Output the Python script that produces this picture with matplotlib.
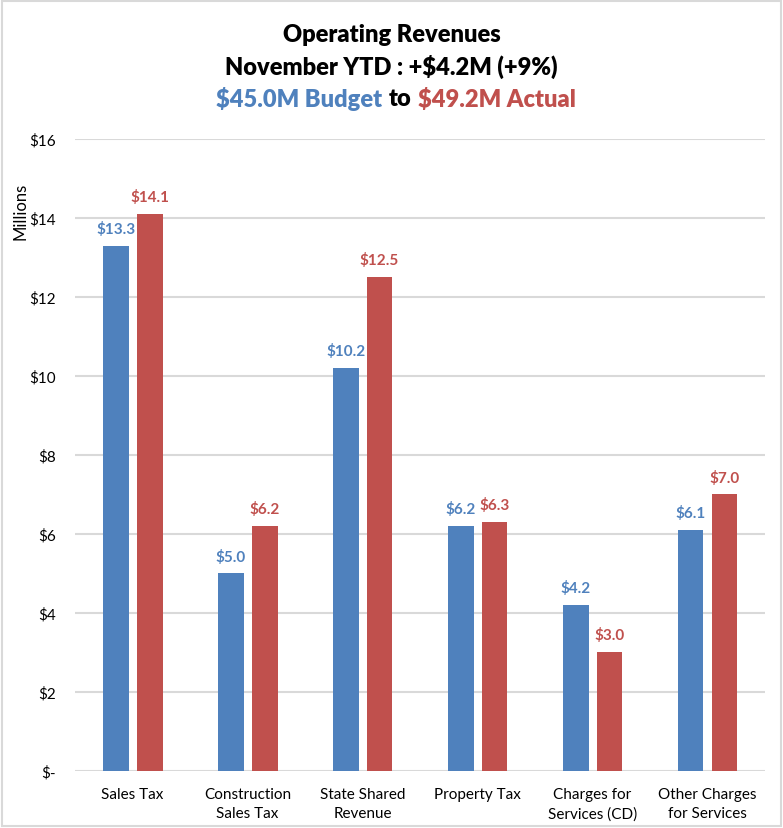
import numpy as np
import matplotlib.pyplot as plt

categories = ["Sales Tax", "Construction\nSales Tax", "State Shared\nRevenue",
              "Property Tax", "Charges for\nServices (CD)", "Other Charges\nfor Services"]
budget = [13.3, 5.0, 10.2, 6.2, 4.2, 6.1]
actual = [14.1, 6.2, 12.5, 6.3, 3.0, 7.0]
yticks = [0, 2, 4, 6, 8, 10, 12, 14, 16]
ytick_labels = ["$-", "$2", "$4", "$6", "$8", "$10", "$12", "$14", "$16"]

BLUE = "#4F81BD"
RED = "#C0504D"

plt.rcParams['font.family'] = ['Lato', 'DejaVu Sans']

fig = plt.figure(figsize=(7.83, 8.29), dpi=100)
ax = fig.add_axes([0.096, 0.069, 0.881, 0.762])

x = np.arange(len(categories))
w = 0.225
gap = 0.035
b1 = ax.bar(x - w / 2 - gap, budget, w, color=BLUE, zorder=3)
b2 = ax.bar(x + w / 2 + gap, actual, w, color=RED, zorder=3)

# data labels
for rect, v in zip(b1, budget):
    ax.text(rect.get_x() + rect.get_width() / 2, v + 0.25, f"${v:.1f}",
            ha="center", va="bottom", color=BLUE, fontsize=11, fontweight="bold")
for rect, v in zip(b2, actual):
    ax.text(rect.get_x() + rect.get_width() / 2, v + 0.25, f"${v:.1f}",
            ha="center", va="bottom", color=RED, fontsize=11, fontweight="bold")

ax.set_xlim(-0.5, len(categories) - 0.5)
ax.set_ylim(0, 16)
ax.set_yticks(yticks)
ax.set_yticklabels(ytick_labels, fontsize=11)
ax.set_xticks(x)
ax.set_xticklabels(categories, fontsize=11, linespacing=1.45, va="top")
ax.tick_params(axis="y", length=0, pad=14)
ax.tick_params(axis="x", length=0, pad=12)
ax.grid(axis="y", color="#D9D9D9", linewidth=1.5, zorder=0)
for s in ax.spines.values():
    s.set_visible(False)

fig.text(0.026, 0.745, "Millions", rotation=90, ha="center", va="center", fontsize=12)

# title lines
TS = 17
fig.text(0.5, 0.958, "Operating Revenues", ha="center", va="center",
         fontsize=TS, fontweight="heavy")
fig.text(0.5, 0.919, "November YTD : +$4.2M (+9%)", ha="center", va="center",
         fontsize=TS, fontweight="heavy")
t1 = fig.text(0.276, 0.880, "$45.0M Budget", ha="left", va="center",
              fontsize=TS, fontweight="heavy", color=BLUE)
fig.canvas.draw()
r = fig.canvas.get_renderer()
bb = t1.get_window_extent(r)
inv = fig.transFigure.inverted()
x1 = inv.transform((bb.x1, bb.y0))[0]
t2 = fig.text(x1 + 0.008, 0.880, "to", ha="left", va="center",
              fontsize=TS, fontweight="heavy", color="black")
bb = t2.get_window_extent(r)
x2 = inv.transform((bb.x1, bb.y0))[0]
fig.text(x2 + 0.008, 0.880, "$49.2M Actual", ha="left", va="center",
         fontsize=TS, fontweight="heavy", color=RED)

# outer border
fig.patches.append(plt.Rectangle((0.002, 0.002), 0.996, 0.996, transform=fig.transFigure,
                                 fill=False, edgecolor="#D9D9D9", linewidth=1.5))

fig.savefig("out.png", dpi=100)
